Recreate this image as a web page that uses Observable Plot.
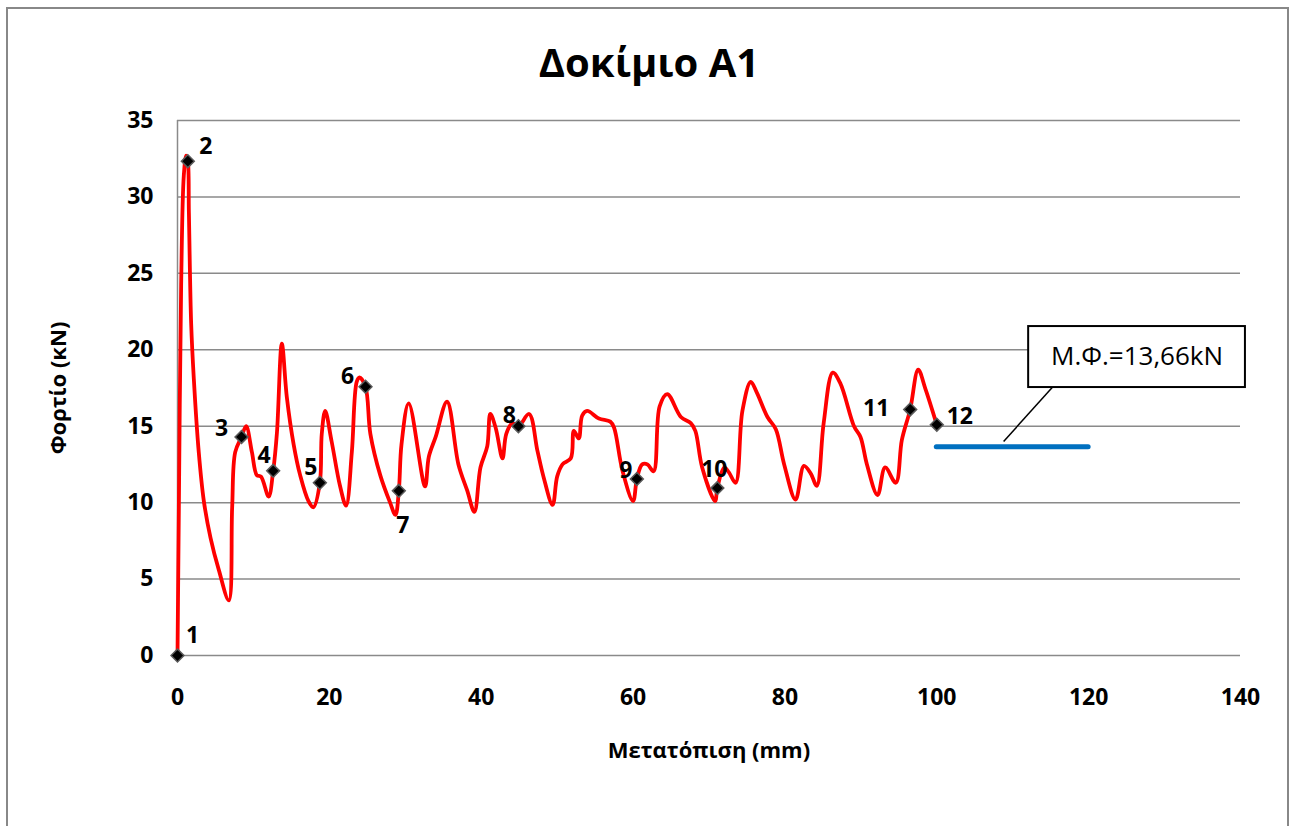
<!DOCTYPE html>
<html>
<head>
<meta charset="utf-8">
<script src="https://cdn.jsdelivr.net/npm/d3@7"></script>
<script src="https://cdn.jsdelivr.net/npm/@observablehq/plot@0.6"></script>
<style>
  html, body { margin: 0; padding: 0; background: #fff; }
  #wrap { position: relative; width: 1289px; height: 826px; overflow: hidden; font-family: "Open Sans", sans-serif; }
  #frame { position: absolute; left: 6px; top: 7px; width: 1283px; height: 900px; box-sizing: border-box; border: 2px solid #888; }
  #title { position: absolute; left: 0; top: 35px; width: 1298px; text-align: center; font-size: 40px; font-weight: bold; line-height: 54px; color: #000; }
  #chart { position: absolute; left: 0; top: 0; }
  #chart g[aria-label="y-axis tick label"], #chart g[aria-label="x-axis tick label"] { font-size: 23px; font-weight: bold; }
</style>
</head>
<body>
<div id="wrap">
  <div id="frame"></div>
  <div id="chart"></div>
  <div id="title"></div>
</div>
<script>
// ---- data ----
const chartTitle = "Δοκίμιο A1";
const xTitle = "Μετατόπιση (mm)";
const yTitle = "Φορτίο (κN)";
const xTicks = [0, 20, 40, 60, 80, 100, 120, 140];
const yTicks = [0, 5, 10, 15, 20, 25, 30, 35];

// displacement (mm) and load (kN) of the test curve
const dispX = [0, 0.18, 0.48, 0.83, 1.14, 1.36, 1.5, 1.8, 2.15, 2.8, 3.47, 4.35, 5.44, 6.76,
  7.2, 7.6, 8.43, 9.04, 9.8, 10.45, 11.0, 12.0, 12.6, 13.1, 13.74, 14.4, 15.3, 16.15, 17.25, 17.9,
  18.75, 19.0, 19.45, 20.3, 21.4, 22.2, 22.96, 23.6, 23.97, 24.76, 25.4, 26.7, 28.0, 28.7,
  29.15, 29.5, 30.45, 32.6, 33.1, 34.0, 35.5, 37.0, 38.15, 39.1, 39.9, 40.8, 41.2, 41.9, 42.8,
  43.3, 44.1, 44.9, 46.3, 47.4, 48.2, 49.4, 50.0, 50.7, 51.8, 52.2, 52.85, 53.3, 53.95, 55.5,
  57.0, 57.5, 58.6, 60.0, 60.5, 61.2, 61.9, 62.7, 63.5, 64.5, 66.3, 67.6, 68.2, 69.1, 70.8,
  71.1, 72.0, 72.6, 73.5, 74.4, 75.5, 76.3, 77.7, 78.8, 79.9, 81.4, 82.5, 83.4, 84.2, 85.1,
  86.3, 87.3, 89.1, 89.95, 90.8, 92.2, 93.2, 94.6, 95.4, 96.5, 97.55, 98.5, 100];
const loadKN = [0, 9.7, 24.2, 31.4, 32.7, 32.34, 29.0, 21.7, 18.1, 13.3, 10.1, 7.7, 5.6, 3.6,
  9.7, 13.3, 14.3, 15.0, 13.3, 11.8, 11.7, 10.4, 12.08, 14.6, 20.4, 16.9, 13.8, 11.8, 10.1, 9.7,
  11.3, 14.5, 16.0, 14.0, 11.1, 9.8, 13.3, 17.9, 18.2, 17.58, 14.5, 11.8, 10.0, 9.2,
  10.77, 13.8, 16.5, 11.06, 13.0, 14.3, 16.6, 12.5, 10.8, 9.4, 12.3, 13.7, 15.8, 14.9, 12.9,
  14.5, 15.2, 15.0, 15.8, 13.4, 11.7, 9.85, 11.7, 12.5, 12.9, 14.7, 14.2, 15.7, 16.0, 15.5,
  15.3, 14.9, 12.1, 10.1, 11.55, 12.5, 12.5, 12.05, 16.3, 17.1, 15.6, 15.2, 14.7, 12.3, 10.1,
  10.95, 12.3, 12.0, 11.3, 16.0, 17.9, 17.2, 15.6, 14.8, 12.5, 10.2, 12.4, 11.9, 11.1, 15.2,
  18.5, 17.8, 15.0, 14.3, 12.5, 10.5, 12.3, 11.3, 14.1, 16.1, 18.7, 17.45, 15.1];

// numbered points
const markerLabels = ["1","2","3","4","5","6","7","8","9","10","11","12"];
const markerX = [0, 1.36, 8.43, 12.6, 18.75, 24.76, 29.15, 44.9, 60.5, 71.1, 96.5, 100];
const markerY = [0, 32.34, 14.3, 12.08, 11.3, 17.58, 10.77, 15.0, 11.55, 10.95, 16.1, 15.1];

// mean load
const meanLabel = "Μ.Φ.=13,66kN";
const meanLoad = 13.66;
const meanFrom = 100;
const meanTo = 120;

// ---- layout / style (not data) ----
const labelOffsets = [[15,-20],[18,-15],[-20,-8],[-9,-15],[-9,-15],[-18,-10],[4,35],[-9,-11],[-11,-8],[-3,-18],[-34,-1],[23,-8]];
const callout = {x1: 112.1, x2: 140.65, y1: 17.53, y2: 21.52, tipX: 108.8, tipY: 14.0, rootX: 115.2};

document.getElementById("title").textContent = chartTitle;

const curve = dispX.map((x, i) => ({x, y: loadKN[i]}));
const markers = markerX.map((x, i) => ({x, y: markerY[i], label: markerLabels[i]}));

const gridColor = "#8a8a8a";
const labelMarks = markers.map((m, i) => Plot.text([m], {
  x: "x", y: "y", text: "label", dx: labelOffsets[i][0], dy: labelOffsets[i][1],
  fontSize: 23, fontWeight: "bold", fill: "#000"
}));

const chart = Plot.plot({
  width: 1289,
  height: 826,
  marginLeft: 177,
  marginRight: 49,
  marginTop: 120,
  marginBottom: 171,
  style: {fontFamily: "'Open Sans', sans-serif", fontWeight: "bold", color: "#000", background: "transparent"},
  x: {domain: [0, 140]},
  y: {domain: [0, 35]},
  marks: [
    Plot.gridY(yTicks, {stroke: gridColor, strokeOpacity: 1, strokeWidth: 1.5}),
    Plot.ruleX([0], {stroke: gridColor, strokeWidth: 1.5}),
    Plot.axisY(yTicks, {tickSize: 0, tickPadding: 24, fontSize: 23, fontWeight: "bold", label: null}),
    Plot.axisX(xTicks, {tickSize: 0, tickPadding: 33, fontSize: 23, fontWeight: "bold", label: null}),
    Plot.text([yTitle], {text: d => d, frameAnchor: "left", textAnchor: "middle", lineAnchor: "middle", dx: -119, rotate: -90, fontSize: 22, fontWeight: "bold"}),
    Plot.text([xTitle], {text: d => d, frameAnchor: "bottom", textAnchor: "middle", lineAnchor: "middle", dy: 95, fontSize: 22, fontWeight: "bold"}),
    Plot.ruleY([meanLoad], {x1: meanFrom, x2: meanTo, stroke: "#0070C0", strokeWidth: 5, strokeLinecap: "round"}),
    Plot.line(curve, {x: "x", y: "y", curve: "catmull-rom", stroke: "#FF0000", strokeWidth: 3.8, strokeLinejoin: "round"}),
    Plot.dot(markers, {x: "x", y: "y", symbol: "diamond2", r: 5.8, fill: "#000", stroke: "#5a5a5a", strokeWidth: 1.5}),
    ...labelMarks,
    Plot.link([callout], {x1: "rootX", y1: "y1", x2: "tipX", y2: "tipY", stroke: "#000", strokeWidth: 1.5}),
    Plot.rect([callout], {x1: "x1", x2: "x2", y1: "y1", y2: "y2", fill: "#fff", stroke: "#000", strokeWidth: 2}),
    Plot.text([meanLabel], {text: d => d, x: (callout.x1 + callout.x2) / 2, y: (callout.y1 + callout.y2) / 2, fontSize: 26, fontWeight: "normal", fill: "#000"})
  ]
});
document.getElementById("chart").appendChild(chart);
</script>
</body>
</html>
